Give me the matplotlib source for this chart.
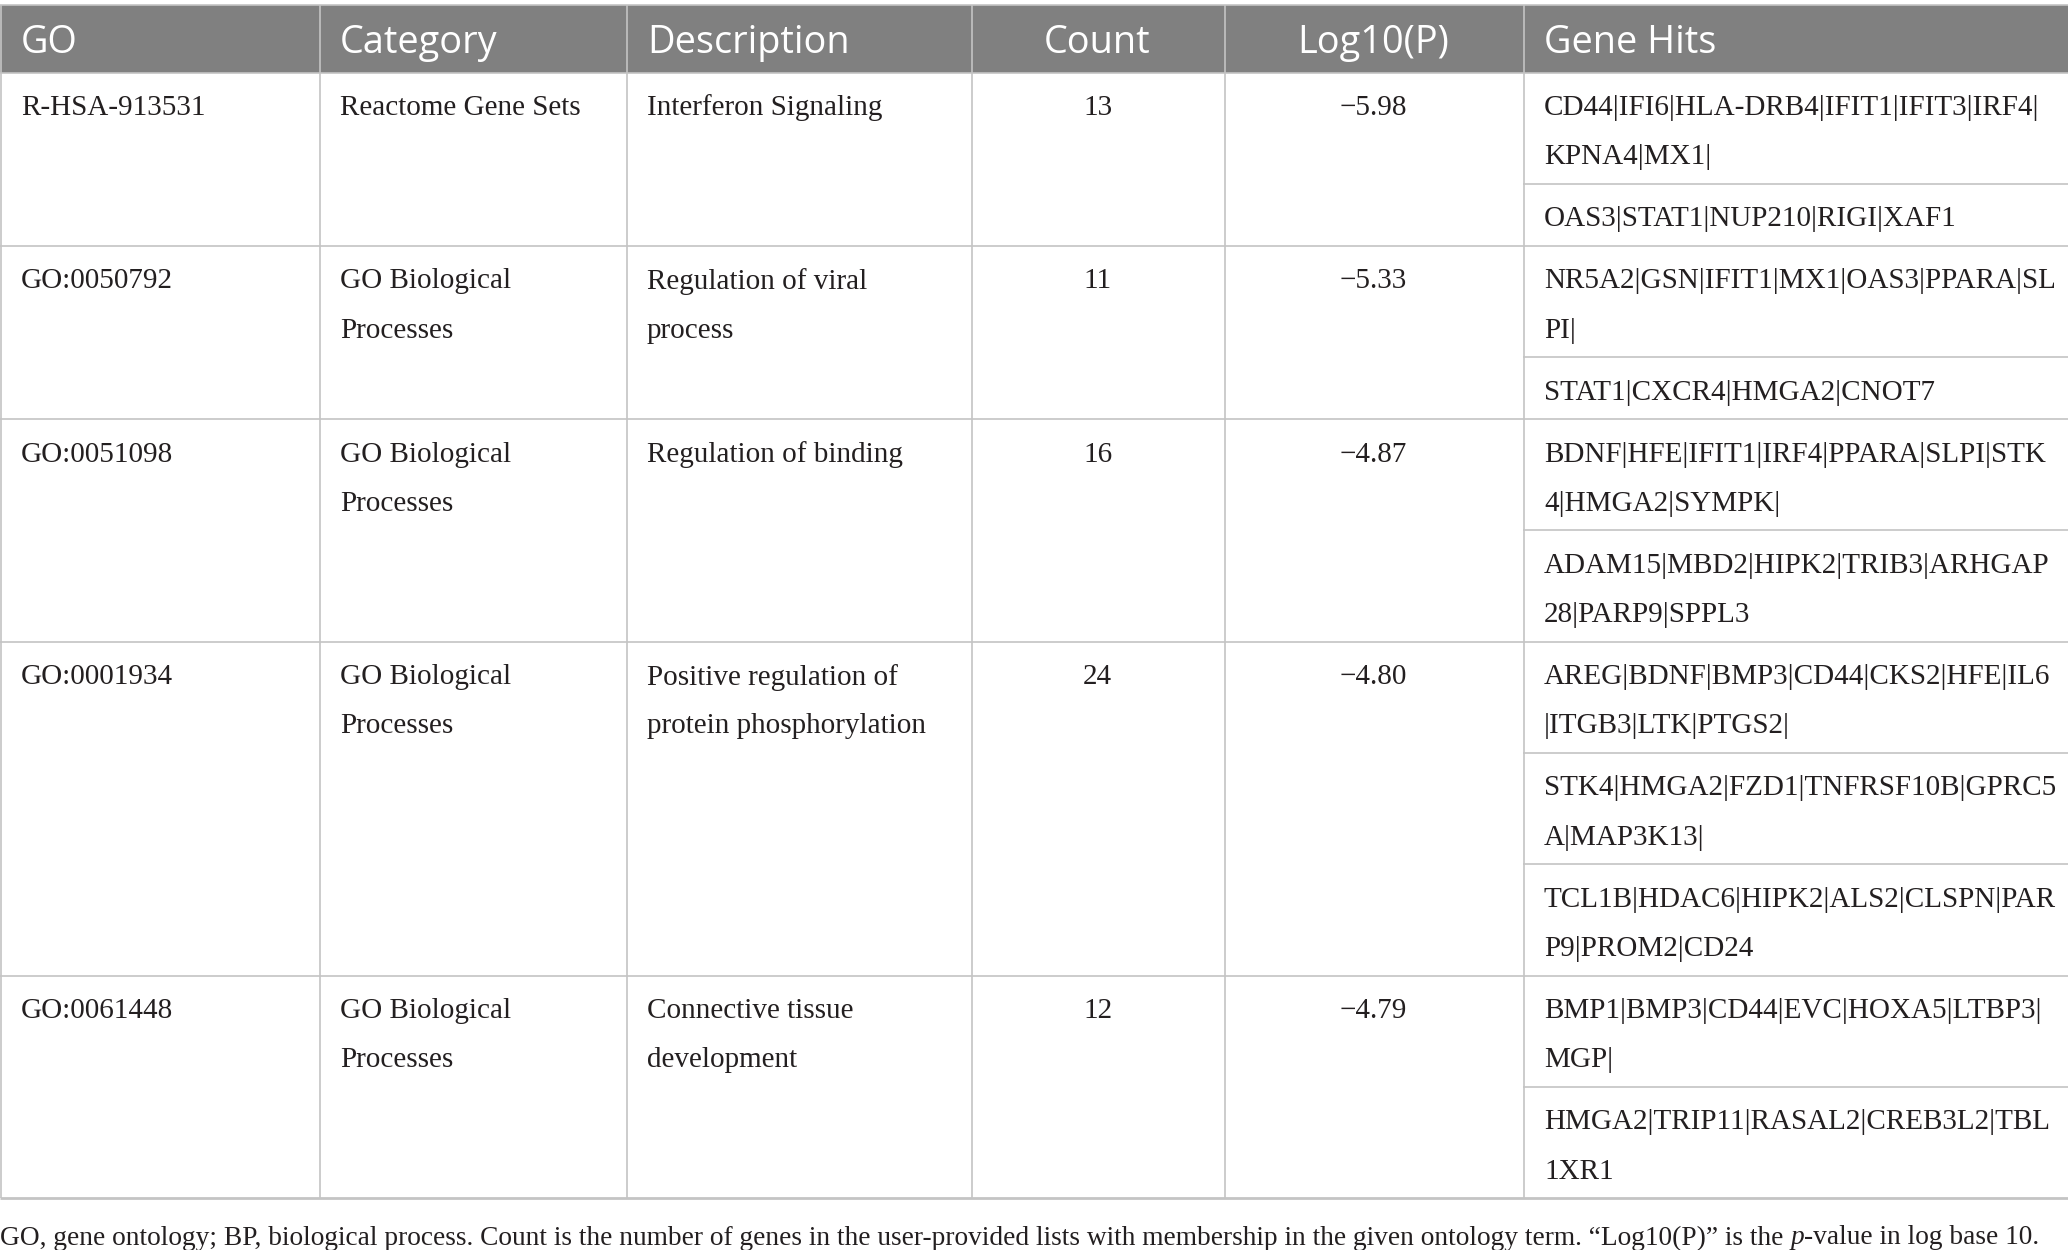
import matplotlib
matplotlib.use('Agg')
import matplotlib.pyplot as plt

plt.rcParams.update({
    'font.family': ['Liberation Serif', 'DejaVu Serif'],
    'axes.unicode_minus': False,
})

# ---------------------------------------------------------------
# table content
# ---------------------------------------------------------------
headers = ['GO', 'Category', 'Description', 'Count', 'Log10(P)', 'Gene Hits']
go_ids = ['R-HSA-913531', 'GO:0050792', 'GO:0051098', 'GO:0001934', 'GO:0061448']
categories = [['Reactome Gene Sets'],
              ['GO Biological', 'Processes'],
              ['GO Biological', 'Processes'],
              ['GO Biological', 'Processes'],
              ['GO Biological', 'Processes']]
descriptions = [['Interferon Signaling'],
                ['Regulation of viral', 'process'],
                ['Regulation of binding'],
                ['Positive regulation of', 'protein phosphorylation'],
                ['Connective tissue', 'development']]
counts = [13, 11, 16, 24, 12]
log10p = [-5.98, -5.33, -4.87, -4.80, -4.79]
gene_hits = [
    [['CD44|IFI6|HLA-DRB4|IFIT1|IFIT3|IRF4|', 'KPNA4|MX1|'],
     ['OAS3|STAT1|NUP210|RIGI|XAF1']],
    [['NR5A2|GSN|IFIT1|MX1|OAS3|PPARA|SL', 'PI|'],
     ['STAT1|CXCR4|HMGA2|CNOT7']],
    [['BDNF|HFE|IFIT1|IRF4|PPARA|SLPI|STK', '4|HMGA2|SYMPK|'],
     ['ADAM15|MBD2|HIPK2|TRIB3|ARHGAP', '28|PARP9|SPPL3']],
    [['AREG|BDNF|BMP3|CD44|CKS2|HFE|IL6', '|ITGB3|LTK|PTGS2|'],
     ['STK4|HMGA2|FZD1|TNFRSF10B|GPRC5', 'A|MAP3K13|'],
     ['TCL1B|HDAC6|HIPK2|ALS2|CLSPN|PAR', 'P9|PROM2|CD24']],
    [['BMP1|BMP3|CD44|EVC|HOXA5|LTBP3|', 'MGP|'],
     ['HMGA2|TRIP11|RASAL2|CREB3L2|TBL', '1XR1']],
]
caption_parts = [
    ('GO, gene ontology; BP, biological process. Count is the number of genes in the '
     'user-provided lists with membership in the given ontology term. \u201cLog10(P)\u201d is the ', 'normal'),
    ('p', 'italic'),
    ('-value in log base 10.', 'normal'),
]

# ---------------------------------------------------------------
# layout (pixels)
# ---------------------------------------------------------------
W, H = 2068, 1250
col_x = [0, 319, 626, 971, 1224, 1523, W]
HEAD_TOP, HEAD_BOT = 5, 72.5
LINE_H = 49.3
PAD = 12.7
FIRST = 35.5
TXT_X = 21

HEAD_BG = '#808080'
GRID = '#c4c4c4'
INK = '#231f20'
BODY_FS = 21
HEAD_FS = 27.3
CAP_FS = 19.7

fig = plt.figure(figsize=(W / 100, H / 100), dpi=100)
ax = fig.add_axes([0, 0, 1, 1])
ax.set_xlim(0, W)
ax.set_ylim(H, 0)
ax.axis('off')

# header band
ax.fill_between([0, W], HEAD_TOP, HEAD_BOT, color=HEAD_BG, lw=0)
head_pos = [(col_x[0] + TXT_X, 'left'), (col_x[1] + TXT_X, 'left'), (col_x[2] + TXT_X, 'left'),
            ((col_x[3] + col_x[4]) / 2, 'center'), ((col_x[4] + col_x[5]) / 2, 'center'),
            (col_x[5] + TXT_X, 'left')]
for h, (hx, ha) in zip(headers, head_pos):
    ax.text(hx, (HEAD_TOP + HEAD_BOT) / 2 + 4.5, h, ha=ha, va='center', color='white',
            fontsize=HEAD_FS, family=['Open Sans', 'DejaVu Sans'])

def lines_at(x, y0, lines, ha='left'):
    for i, s in enumerate(lines):
        ax.text(x, y0 + FIRST + i * LINE_H, s, ha=ha, va='center', color=INK, fontsize=BODY_FS)

y = HEAD_BOT
hlines = [HEAD_TOP, HEAD_BOT]
sub_lines = []
for i in range(len(go_ids)):
    top = y
    lines_at(col_x[0] + TXT_X, top, [go_ids[i]])
    lines_at(col_x[1] + TXT_X, top, categories[i])
    lines_at(col_x[2] + TXT_X, top, descriptions[i])
    lines_at((col_x[3] + col_x[4]) / 2, top, [str(counts[i])], ha='center')
    lines_at((col_x[4] + col_x[5]) / 2, top, [f'\u2212{abs(log10p[i]):.2f}'], ha='center')
    for k, sub in enumerate(gene_hits[i]):
        lines_at(col_x[5] + TXT_X, y, sub)
        y += LINE_H * len(sub) + PAD
        if k < len(gene_hits[i]) - 1:
            sub_lines.append(y)
    hlines.append(y)
table_bot = y

# grid
for hy in hlines[:-1]:
    ax.plot([0, W], [hy, hy], color=GRID, lw=1.2, solid_capstyle='butt')
ax.plot([0, W], [table_bot, table_bot], color=GRID, lw=2.0, solid_capstyle='butt')
for sy in sub_lines:
    ax.plot([col_x[5], W], [sy, sy], color=GRID, lw=1.2, solid_capstyle='butt')
for cx in col_x[:-1]:
    ax.plot([cx + 0.6, cx + 0.6], [HEAD_TOP, table_bot], color=GRID, lw=1.2,
            solid_capstyle='butt')

# caption, drawn piecewise so that the p can be italic
fig.canvas.draw()
r = fig.canvas.get_renderer()
cx = 0
cap_y = 1238
for s, style in caption_parts:
    t = ax.text(cx, cap_y, s, ha='left', va='center', color=INK, fontsize=CAP_FS, style=style)
    bb = t.get_window_extent(renderer=r)
    cx += bb.width

fig.savefig('out.png', dpi=100)
